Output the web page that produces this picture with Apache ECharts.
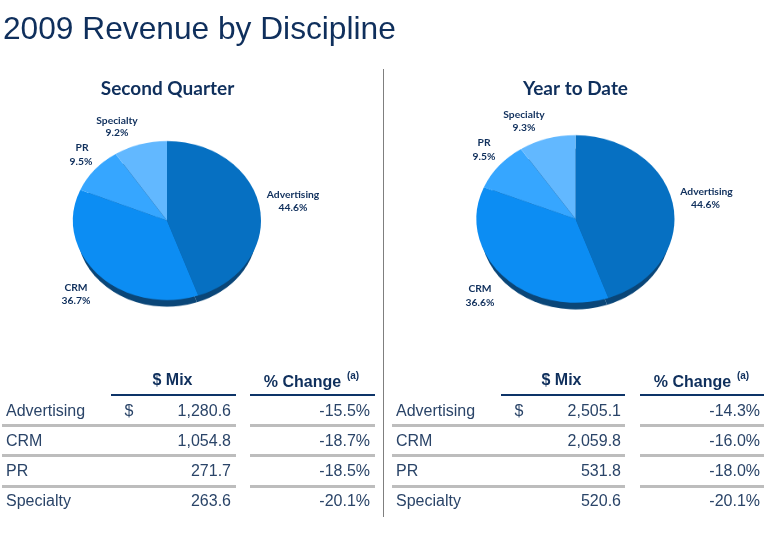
<!DOCTYPE html>
<html><head><meta charset="utf-8">
<style>
html,body{margin:0;padding:0;background:#fff;overflow:hidden}
#stage{position:relative;width:770px;height:537px;overflow:hidden}
#pies{position:absolute;left:0;top:0;width:770px;height:635px;transform:scaleY(0.846);transform-origin:0 0}
#overlay{position:absolute;left:0;top:0;width:770px;height:537px}
</style>
<script src="https://cdn.jsdelivr.net/npm/echarts@6/dist/echarts.min.js"></script>
</head><body><div id="stage"><div id="pies"></div><div id="overlay"></div></div>
<script>
const categories = ['Advertising','CRM','PR','Specialty'];
const quarterShare = [44.6,36.7,9.5,9.2];
const ytdShare = [44.6,36.6,9.5,9.3];
const quarterMix = ['1,280.6','1,054.8','271.7','263.6'];
const ytdMix = ['2,505.1','2,059.8','531.8','520.6'];
const quarterChange = ['-15.5%','-18.7%','-18.5%','-20.1%'];
const ytdChange = ['-14.3%','-16.0%','-18.0%','-20.1%'];
const sliceColors = ['#0670c2','#0c8df3','#36a6ff','#62b8ff'];
const rimColor = '#0a4678';
const navy = '#0f2f5c', body = '#2a4468', grey = '#bdbdbd', ruleNavy = '#0d3468';
const SY = 0.846;

function pieSeries(share, cx, cy, r, rimOffset){
  const rim = rimOffset > 0;
  return {type:'pie',silent:true,animation:false,startAngle:90,clockwise:true,
    center:[cx,(cy+rimOffset)/SY],radius:[0,rim?r-4:r],label:{show:false},labelLine:{show:false},
    z:rim?1:2,
    data:categories.map((c,i)=>({name:c,value:share[i],
      itemStyle:{color:rim?rimColor:sliceColors[i]}}))};
}
const pies = echarts.init(document.getElementById('pies'),null,{renderer:'canvas'});
pies.setOption({animation:false,series:[
  pieSeries(quarterShare,167,220.5,94,10),pieSeries(quarterShare,167,220.5,94,0),
  pieSeries(ytdShare,575.5,219,99,10),pieSeries(ytdShare,575.5,219,99,0)]});

const g = [];
const text = (t,x,y,font,fill,align='left',vb='middle')=>g.push({type:'text',x,y,silent:true,
  style:{text:t,x:0,y:0,font,fill,textAlign:align,textVerticalAlign:vb}});
const rect = (x,y,w,h,fill)=>g.push({type:'rect',silent:true,shape:{x,y,width:w,height:h},style:{fill}});

text('2009 Revenue by Discipline',3,30,'31.7px "Liberation Sans"',navy);
rect(383,69,1,448,'#7f7f7f');
const lato='bold 19px Lato';
text('Second Quarter',167.5,89,lato,navy,'center');
text('Year to Date',575.5,89,lato,navy,'center');

const labelPos = [
 [[[293,195],[293,208]],[[76,287.5],[76,301]],[[82,148],[81,161.5]],[[117,120.5],[117,133]]],
 [[[706.5,192],[705.5,205]],[[480,289],[480,303]],[[484,143],[484,157]],[[524,115],[524,127.5]]]
];
[quarterShare,ytdShare].forEach((s,k)=>categories.forEach((c,i)=>{
  text(c,labelPos[k][i][0][0],labelPos[k][i][0][1],'bold 10.3px Lato',navy,'center');
  text(s[i].toFixed(1)+'%',labelPos[k][i][1][0],labelPos[k][i][1][1],'bold 10.3px Lato',navy,'center');
}));

const rowY=[411.5,441.5,471.5,501.5], ruleY=[424,454,485];
[{off:0,mix:quarterMix,chg:quarterChange,lx:2,mxL:111,mxR:236,cL:250,cR:375,lbl:6,mR:231,cT:370,dl:125,hM:172.5,hC:305},
 {off:1,mix:ytdMix,chg:ytdChange,lx:392,mxL:501,mxR:625,cL:640,cR:764,lbl:396,mR:621,cT:760,dl:515,hM:561.5,hC:695}].forEach(t=>{
  text('$ Mix',t.hM,381,'bold 16px "Liberation Sans"',navy,'center');
  text('% Change',t.hC-2.5,383,'bold 16px "Liberation Sans"',navy,'center');
  text('(a)',t.hC+48,376.5,'bold 10px "Liberation Sans"',navy,'center');
  rect(t.mxL,394,t.mxR-t.mxL,2,ruleNavy); rect(t.cL,394,t.cR-t.cL,2,ruleNavy);
  ruleY.forEach(y=>{rect(t.lx,y,t.mxR-t.lx,3,grey); rect(t.cL,y,t.cR-t.cL,3,grey);});
  categories.forEach((c,i)=>{
    text(c,t.lbl,rowY[i],'16px "Liberation Sans"',body);
    text(t.mix[i],t.mR,rowY[i],'16px "Liberation Sans"',body,'right');
    text(t.chg[i],t.cT,rowY[i],'16px "Liberation Sans"',body,'right');
  });
  text('$',t.dl+4,rowY[0],'16px "Liberation Sans"',body,'center');
});
const overlay = echarts.init(document.getElementById('overlay'),null,{renderer:'canvas'});
overlay.setOption({animation:false,graphic:{elements:g}});
</script></body></html>
